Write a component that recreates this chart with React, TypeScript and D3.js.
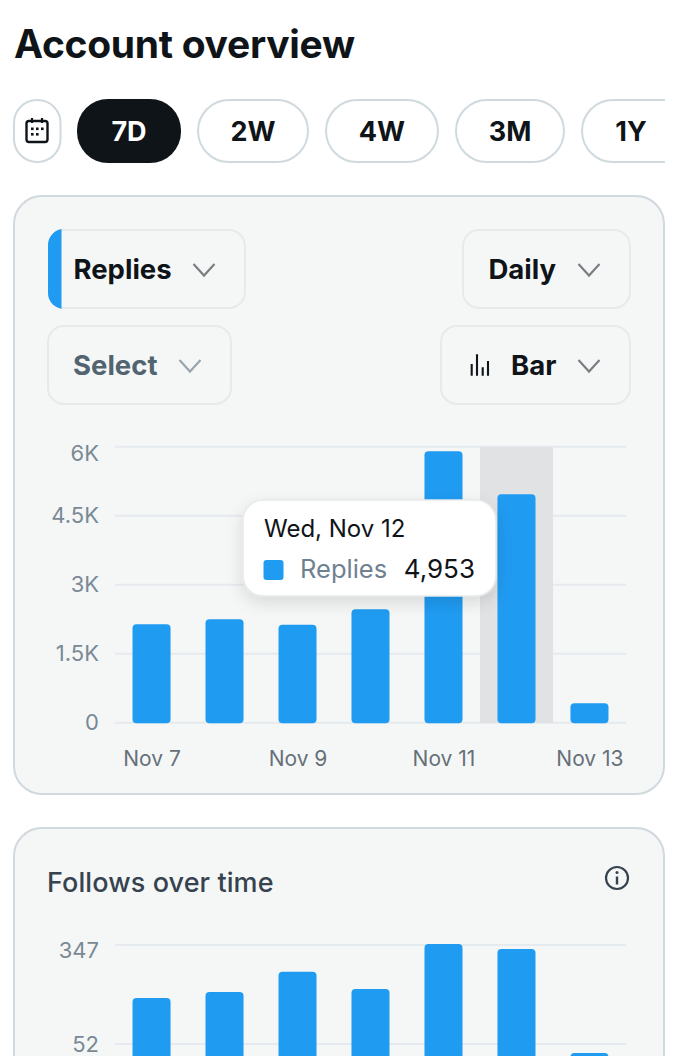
import React from "react";
import * as d3 from "d3";

const FONT = "Inter, 'Noto Sans', sans-serif";
const INK = "#0f1419";
const BLUE = "#1f9bf1";
const CARD = "#f5f7f7";

const dayLabels = ["Nov 7", "Nov 8", "Nov 9", "Nov 10", "Nov 11", "Nov 12", "Nov 13"];
const shownDays = ["Nov 7", "Nov 9", "Nov 11", "Nov 13"];
const repliesValues = [2130, 2240, 2120, 2455, 5890, 4953, 410];
const repliesTicks = [0, 1500, 3000, 4500, 6000];
const repliesTickLabels = ["0", "1.5K", "3K", "4.5K", "6K"];
const followsValues = [189, 207, 267, 216, 350, 335, 25];
const followsTicks = [52, 347];
const followsTickLabels = ["52", "347"];
const ranges = ["7D", "2W", "4W", "3M", "1Y"];

const x = d3.scaleBand<string>().domain(dayLabels).range([115, 626]).paddingInner(0.479).paddingOuter(0.24);
const highlight = d3.scaleBand<string>().domain(dayLabels).range([115, 626]);
const yReplies = d3.scaleLinear().domain([0, 6000]).range([722.7, 446.7]);
const yFollows = d3.scaleLinear().domain([0, 347]).range([1061.5, 945]);

function barPath(x0: number, top: number, w: number, bottom: number, r = 4) {
  const p = d3.path();
  p.moveTo(x0, bottom - r);
  p.lineTo(x0, top + r);
  p.quadraticCurveTo(x0, top, x0 + r, top);
  p.lineTo(x0 + w - r, top);
  p.quadraticCurveTo(x0 + w, top, x0 + w, top + r);
  p.lineTo(x0 + w, bottom - r);
  p.quadraticCurveTo(x0 + w, bottom, x0 + w - r, bottom);
  p.lineTo(x0 + r, bottom);
  p.quadraticCurveTo(x0, bottom, x0, bottom - r);
  p.closePath();
  return p.toString();
}

function Chevron({ cx, cy, color = "#7a7f83" }: { cx: number; cy: number; color?: string }) {
  return <path d={`M${cx - 10.5} ${cy - 6}L${cx} ${cy + 5.5}L${cx + 10.5} ${cy - 6}`} fill="none" stroke={color} strokeWidth={2.2} />;
}

function Box({ x0, y0, w, h = 78 }: { x0: number; y0: number; w: number; h?: number }) {
  return <rect x={x0} y={y0} width={w} height={h} rx={16} fill={CARD} stroke="#e6eaeb" strokeWidth={2} />;
}

const pillBoxes = [
  { x0: 77, w: 104 },
  { x0: 198, w: 110 },
  { x0: 326, w: 112 },
  { x0: 456, w: 108 },
  { x0: 582, w: 110 },
];
const pillText = [129, 253, 382, 510, 631];
const followsLineY = (t: number) => (t === 52 ? 1044 : yFollows(t));

export default function App() {
  return (
    <svg width={698} height={1056} viewBox="0 0 698 1056" style={{ position: "absolute", top: 0, left: 0, display: "block", fontFamily: FONT }}>
      <defs>
        <clipPath id="pillClip"><rect x={0} y={90} width={665} height={80} /></clipPath>
        <clipPath id="blueClip"><rect x={48} y={229} width={13.5} height={80} /></clipPath>
        <filter id="tipShadow" x="-20%" y="-30%" width="140%" height="170%">
          <feDropShadow dx={0} dy={6} stdDeviation={8} floodColor="#000" floodOpacity={0.12} />
        </filter>
      </defs>
      <rect width={698} height={1056} fill="#fff" />
      <text x={14} y={58} fontSize={39} fontWeight={700} fill={INK} letterSpacing={-0.3}>Account overview</text>

      <rect x={14} y={100} width={46.5} height={62} rx={23} fill="#fff" stroke="#cfd9de" strokeWidth={2} />
      <g fill="none" stroke={INK} strokeWidth={2.4}>
        <rect x={26.5} y={121} width={21} height={21} rx={2.5} />
        <path d="M32 118v5M42 118v5" strokeWidth={2.2} />
      </g>
      <g fill={INK}>
        {[0, 1, 2].map((i) => <rect key={i} x={31 + i * 5} y={127.5} width={2.6} height={2.6} />)}
        {[0, 1].map((i) => <rect key={i} x={31 + i * 5} y={133} width={2.6} height={2.6} />)}
      </g>
      <g clipPath="url(#pillClip)">
        {ranges.map((r, i) => (
          <g key={r}>
            <rect
              x={pillBoxes[i].x0}
              y={i === 0 ? 99 : 100}
              width={pillBoxes[i].w}
              height={i === 0 ? 64 : 62}
              rx={31}
              fill={i === 0 ? INK : "#fff"}
              stroke={i === 0 ? "none" : "#cfd9de"}
              strokeWidth={2}
            />
            <text x={pillText[i]} y={141} textAnchor="middle" fontSize={27} fontWeight={700} fill={i === 0 ? "#fff" : INK}>{r}</text>
          </g>
        ))}
      </g>

      <rect x={14} y={196} width={650} height={598} rx={28} fill={CARD} stroke="#cfd9de" strokeWidth={2} />
      <Box x0={49} y0={230} w={196} />
      <rect x={48} y={229} width={60} height={80} rx={16} fill={BLUE} clipPath="url(#blueClip)" />
      <text x={73.5} y={279} fontSize={27.5} fontWeight={700} fill={INK}>Replies</text>
      <Chevron cx={204} cy={270} />
      <Box x0={463} y0={230} w={167} />
      <text x={488.500} y={279} fontSize={27.5} fontWeight={700} fill={INK}>Daily</text>
      <Chevron cx={589} cy={270} />
      <Box x0={48} y0={326} w={183} />
      <text x={73} y={375} fontSize={27.5} fontWeight={700} fill="#536471">Select</text>
      <Chevron cx={190} cy={366} color="#9aa5ad" />
      <Box x0={441} y0={326} w={189} />
      <path d="M471.700 364V375.700M477 354.300V375.700M482.700 367.300V375.700M488 361V375.700" fill="none" stroke={INK} strokeWidth={2.1} />
      <text x={511} y={375} fontSize={27.5} fontWeight={700} fill={INK}>Bar</text>
      <Chevron cx={589} cy={366} />

      {repliesTicks.map((t) => (
        <line key={t} x1={115} x2={626} y1={yReplies(t)} y2={yReplies(t)} stroke="#e5eaee" strokeWidth={2} />
      ))}
      {repliesTicks.map((t, i) => (
        <text key={t} x={99} y={yReplies(t) + (i === repliesTicks.length - 1 ? 14.500 : 7.500)} textAnchor="end" fontSize={22} fill="#7a8994">{repliesTickLabels[i]}</text>
      ))}
      <rect x={highlight("Nov 12")!} y={447} width={highlight.bandwidth()} height={276} fill="#e0e2e4" />
      {repliesValues.map((v, i) => (
        <path key={i} d={barPath(x(dayLabels[i])!, yReplies(v) - 0.5, x.bandwidth(), 723.3)} fill={BLUE} />
      ))}
      {shownDays.map((d) => (
        <text key={d} x={x(d)! + x.bandwidth() / 2 + 0.5} y={766} textAnchor="middle" fontSize={21} fill="#667079">{d}</text>
      ))}

      <rect x={243} y={500} width={253} height={96} rx={20} fill="#fff" stroke="#e6e9eb" strokeWidth={1.5} filter="url(#tipShadow)" />
      <text x={264} y={537} fontSize={24} fill={INK}>Wed, Nov 12</text>
      <rect x={263.500} y={560} width={20} height={20} rx={3} fill={BLUE} />
      <text x={300} y={578} fontSize={25.5} fill="#6f8191">Replies</text>
      <text x={475} y={578} textAnchor="end" fontSize={26} fill={INK}>{d3.format(",")(repliesValues[5])}</text>

      <rect x={14} y={828} width={650} height={300} rx={28} fill={CARD} stroke="#cfd9de" strokeWidth={2} />
      <text x={47} y={892} fontSize={27} fontWeight={500} fill="#36434e" letterSpacing={0.1}>Follows over time</text>
      <circle cx={617} cy={878} r={11} fill="none" stroke="#36434e" strokeWidth={2.2} />
      <path d="M617 876.500v8" stroke="#36434e" strokeWidth={2.4} />
      <circle cx={617} cy={872.500} r={1.5} fill="#36434e" />
      {followsTicks.map((t) => (
        <line key={t} x1={115} x2={626} y1={followsLineY(t)} y2={followsLineY(t)} stroke="#e5eaee" strokeWidth={2} />
      ))}
      {followsTicks.map((t, i) => (
        <text key={t} x={99} y={followsLineY(t) + (t === 347 ? 13 : 8)} textAnchor="end" fontSize={22} fill="#7a8994">{followsTickLabels[i]}</text>
      ))}
      {followsValues.map((v, i) => (
        <path key={i} d={barPath(x(dayLabels[i])!, yFollows(v), x.bandwidth(), 1100)} fill={BLUE} />
      ))}
    </svg>
  );
}
